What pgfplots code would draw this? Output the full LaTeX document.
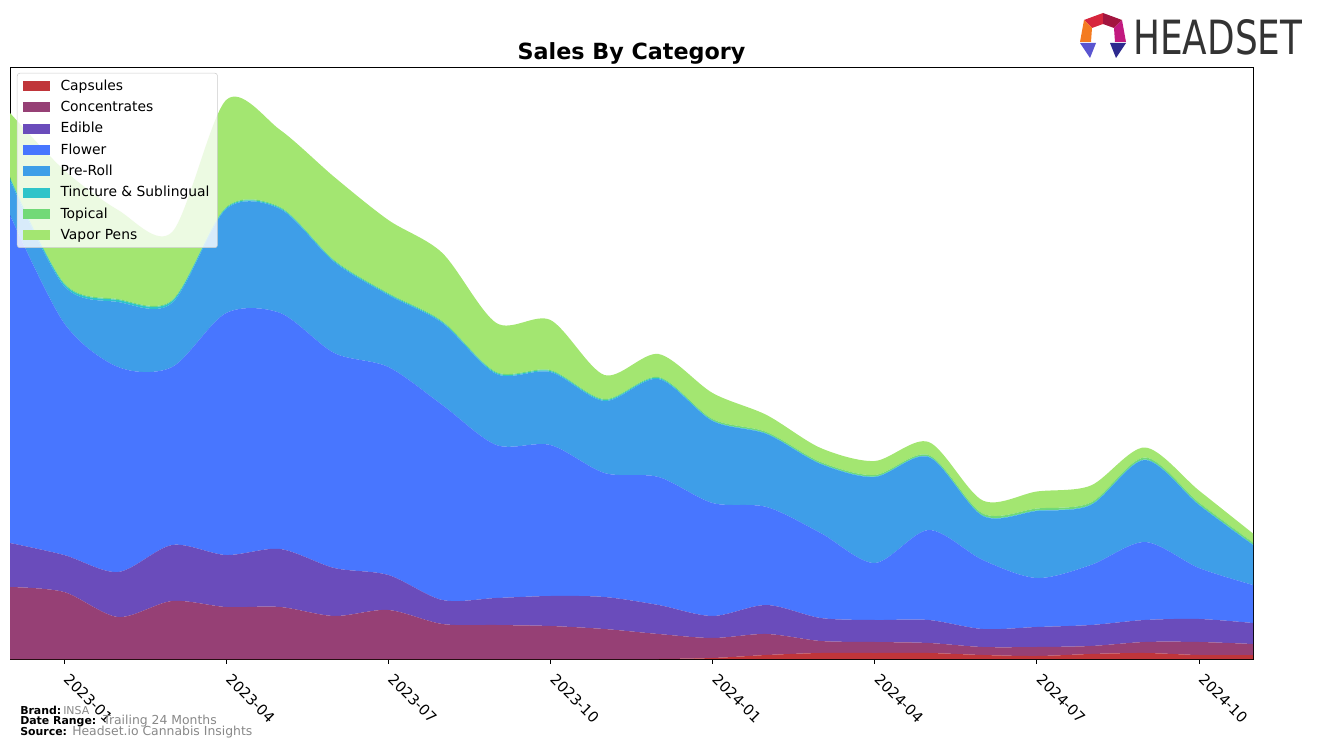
\documentclass[border=0pt]{standalone}
\usepackage{pgfplots}
\pgfplotsset{compat=1.18}
\usepackage{pgfplotstable}
\usepackage{graphicx}
\usepackage{fontspec}
\setmainfont{DejaVu Sans}

\definecolor{cCap}{HTML}{C0353A}
\definecolor{cCon}{HTML}{964075}
\definecolor{cEdi}{HTML}{6A4CBB}
\definecolor{cFlo}{HTML}{4876FF}
\definecolor{cPre}{HTML}{3E9EE8}
\definecolor{cTin}{HTML}{2FC4C9}
\definecolor{cTop}{HTML}{72D977}
\definecolor{cVap}{HTML}{A3E671}
\definecolor{footgray}{HTML}{888888}
\definecolor{logogray}{HTML}{333333}
\definecolor{lgA}{HTML}{D7263D}
\definecolor{lgB}{HTML}{A3153F}
\definecolor{lgC}{HTML}{F47B20}
\definecolor{lgD}{HTML}{C2197F}
\definecolor{lgE}{HTML}{5A55D0}
\definecolor{lgF}{HTML}{2E2A8F}

\pgfplotstableread{
i cap con edi flo pre tin top vap
0 0 72 44 328 35 2 1 64
1 0 67 37 232 37 2 1 113
2 0 42 45 205 65 2 1 89
3 0 58 56 178 64 2 1 68
4 0 52 52 242 104 1 1 107
5 0 52 58 236 104 1 1 77
6 0 43 48 215 91 1 1 83
7 0 49 35 208 72 1 1 73
8 0 35 24 195 82 1 1 68
9 0 34 27 153 71 1 1 49
10 0 33 30 151 73 1 1 50
11 0 30 32 124 72 1 1 24
12 0 25 29 128 98 1 1 23
13 1 20 22 113 82 0.5 1.5 26
14 4 21 29 98 73 0.5 1.5 17
15 6 12 23 85 69 0.5 1.5 14
16 6 11 22 57 86 0.5 1.5 14
17 6 10 23 90 73 0.5 1.5 13
18 4 8 18 69 44 0.5 2 13
19 3 9 20 49 67 0.5 2 17
20 5 8 21 60 60 0.5 2 17
21 6 11 22 78 82 0.5 2 10
22 4 13 23 51 63 0.5 2 12
23 4 11 21 38 40 0.5 2 9
}\data

\begin{document}
\begin{tikzpicture}
\useasboundingbox (0,0) rectangle (987.75pt,560.25pt);
\begin{axis}[
  at={(7.5pt,66pt)}, anchor=south west,
  scale only axis, width=932.25pt, height=444pt,
  xmin=0, xmax=23, ymin=0, ymax=592,
  stack plots=y,
  axis line style={line width=0.6pt},
  xtick={1,4,7,10,13,16,19,22},
  xticklabels={2023-01,2023-04,2023-07,2023-10,2024-01,2024-04,2024-07,2024-10},
  xtick pos=bottom, ytick=\empty, tick align=outside,
  major tick length=3.65pt,
  tick style={black, line width=0.6pt},
  xticklabel style={rotate=-45, anchor=north west, font=\fontsize{11}{12}\selectfont, inner sep=1pt, xshift=7pt},
  legend style={at={(0.0056,0.99)}, anchor=north west, draw=black!20, fill=white, fill opacity=0.8, text opacity=1, draw opacity=1, rounded corners=2pt, font=\fontsize{10.4}{12}\selectfont, row sep=2.6pt, inner xsep=4pt, inner ysep=3pt},
  legend cell align=left,
  legend image code/.code={\fill[#1, fill opacity=1, sharp corners] (0pt,-3.75pt) rectangle (20.25pt,3.75pt); \path (26.5pt,0pt);},
  every axis plot/.append style={smooth, tension=0.5},
]
\addplot[fill=cCap, draw=none] table[x=i,y=cap]{\data} \closedcycle;
\addplot[fill=cCon, draw=none] table[x=i,y=con]{\data} \closedcycle;
\addplot[fill=cEdi, draw=none] table[x=i,y=edi]{\data} \closedcycle;
\addplot[fill=cFlo, draw=none] table[x=i,y=flo]{\data} \closedcycle;
\addplot[fill=cPre, draw=none] table[x=i,y=pre]{\data} \closedcycle;
\addplot[fill=cTin, draw=none] table[x=i,y=tin]{\data} \closedcycle;
\addplot[fill=cTop, draw=none] table[x=i,y=top]{\data} \closedcycle;
\addplot[fill=cVap, draw=none] table[x=i,y=vap]{\data} \closedcycle;
\legend{Capsules,Concentrates,Edible,Flower,Pre-Roll,Tincture \& Sublingual,Topical,Vapor Pens}
\end{axis}
\begin{scope}[x=0.75pt, y=-0.75pt, shift={(0pt,560.25pt)}]
\node[anchor=base, inner sep=0, font=\bfseries\fontsize{16.7}{19}\selectfont] at (631.5,60) {Sales By Category};
% footer
\node[anchor=base west, inner sep=0, font=\bfseries\fontsize{8.2}{9}\selectfont] at (20,714) {Brand:};
\node[anchor=base west, inner sep=0, text=footgray, font=\fontsize{8.2}{9}\selectfont] at (63,714) {INSA};
\node[anchor=base west, inner sep=0, font=\bfseries\fontsize{8.2}{9}\selectfont] at (20,724.5) {Date Range:};
\node[anchor=base west, inner sep=0, text=footgray, font=\fontsize{9.3}{10}\selectfont] at (103,724.5) {Trailing 24 Months};
\node[anchor=base west, inner sep=0, font=\bfseries\fontsize{8.2}{9}\selectfont] at (20,735) {Source:};
\node[anchor=base west, inner sep=0, text=footgray, font=\fontsize{9.3}{10}\selectfont] at (72,735) {Headset.io Cannabis Insights};
% logo
\fill[lgA] (1103,13) -- (1103,24) -- (1092,28) -- (1084,20) -- cycle;
\fill[lgB] (1103,13) -- (1122,20) -- (1114,28) -- (1103,24) -- cycle;
\fill[lgC] (1084,20) -- (1092,28) -- (1091,42) -- (1080,42) -- cycle;
\fill[lgD] (1122,20) -- (1126,42) -- (1115,42) -- (1114,28) -- cycle;
\fill[lgE] (1080,43) -- (1096,43) -- (1090,58) -- cycle;
\fill[lgF] (1110,43) -- (1126,43) -- (1116,58) -- cycle;
\node[anchor=south west, inner sep=0, text=logogray] at (1133,55) {\resizebox{126.75pt}{26.25pt}{HEADSET}};
\end{scope}
\end{tikzpicture}
\end{document}
